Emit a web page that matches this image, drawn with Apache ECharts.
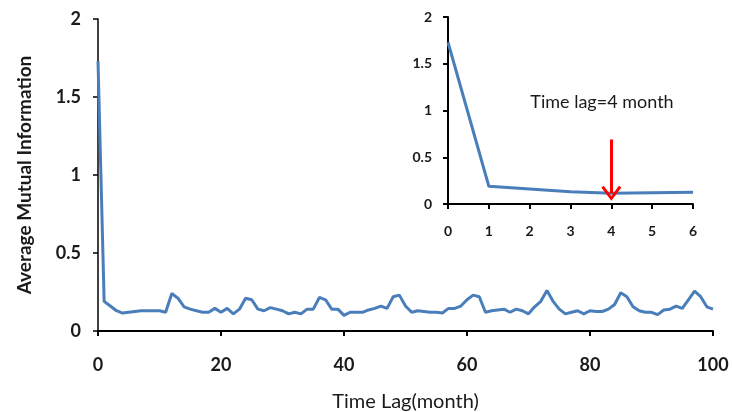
<!DOCTYPE html>
<html>
<head>
<meta charset="utf-8">
<script src="https://cdn.jsdelivr.net/npm/echarts@6/dist/echarts.min.js"></script>
<style>
  html, body { margin: 0; padding: 0; background: #fff; }
  #chart { width: 732px; height: 412px; }
</style>
</head>
<body>
<div id="chart"></div>
<script>
// Average mutual information for time lags 0..100 months
const lags = Array.from({ length: 101 }, (_, i) => i);
const ami = [
  1.73, 0.19, 0.16, 0.13, 0.115, 0.12, 0.125, 0.13, 0.13, 0.13,
  0.13, 0.12, 0.24, 0.21, 0.155, 0.14, 0.13, 0.12, 0.12, 0.145,
  0.12, 0.145, 0.11, 0.14, 0.21, 0.2, 0.14, 0.13, 0.15, 0.14,
  0.13, 0.11, 0.12, 0.11, 0.14, 0.14, 0.215, 0.2, 0.14, 0.14,
  0.10, 0.12, 0.12, 0.12, 0.135, 0.145, 0.16, 0.145, 0.22, 0.23,
  0.16, 0.12, 0.13, 0.125, 0.12, 0.12, 0.115, 0.145, 0.145, 0.16,
  0.2, 0.23, 0.22, 0.12, 0.13, 0.135, 0.14, 0.12, 0.14, 0.13,
  0.11, 0.155, 0.19, 0.26, 0.19, 0.14, 0.11, 0.12, 0.13, 0.11,
  0.13, 0.125, 0.125, 0.14, 0.17, 0.245, 0.22, 0.155, 0.13, 0.12,
  0.12, 0.105, 0.135, 0.14, 0.16, 0.145, 0.2, 0.255, 0.22, 0.155,
  0.14
];
// Zoomed view covers the first lags only
const insetMaxLag = 6;
const chosenLag = 4;
const annotation = 'Time lag=4 month';
const yTicks = ['0', '0.5', '1', '1.5', '2'];

const mainPoints = lags.map((l, i) => [l, ami[i]]);
const insetPoints = mainPoints.slice(0, insetMaxLag + 1);

const FONT = 'Lato, "Open Sans", sans-serif';
const LINE_COLOR = '#4A7EBB';
const TEXT = '#1a1a1a';

const chart = echarts.init(document.getElementById('chart'), null, { renderer: 'canvas' });

const baseAxisLine = w => ({ show: true, onZero: false, lineStyle: { color: '#000', width: w } });

chart.setOption({
  backgroundColor: '#fff',
  animation: false,
  title: {
    text: annotation,
    left: 597, top: 88,
    textAlign: 'center',
    textStyle: { fontFamily: FONT, fontSize: 18, fontWeight: 'normal', color: TEXT }
  },
  grid: [
    { left: 98, right: 19, top: 19, bottom: 81, containLabel: false, outerBoundsMode: 'none' },
    { left: 448, right: 39, top: 17, bottom: 208, containLabel: false, outerBoundsMode: 'none' }
  ],
  xAxis: [
    {
      gridIndex: 0, type: 'value', min: 0, max: 100, interval: 20,
      name: 'Time Lag(month)', nameLocation: 'middle', nameGap: 61,
      nameTextStyle: { fontFamily: FONT, fontSize: 20, color: TEXT },
      axisLine: baseAxisLine(2),
      axisTick: { show: true, length: 5, lineStyle: { color: '#000', width: 2 } },
      axisLabel: { margin: 25, fontFamily: FONT, fontSize: 18, fontWeight: 'bold', color: TEXT },
      splitLine: { show: false }
    },
    {
      gridIndex: 1, type: 'value', min: 0, max: insetMaxLag, interval: 1,
      axisLine: baseAxisLine(2),
      axisTick: { show: true, length: 5, lineStyle: { color: '#000', width: 2 } },
      axisLabel: { margin: 20, fontFamily: FONT, fontSize: 14, fontWeight: 'bold', color: TEXT },
      splitLine: { show: false }
    }
  ],
  yAxis: [
    {
      gridIndex: 0, type: 'value', min: 0, max: 2, interval: 0.5,
      name: 'Average Mutual Information', nameLocation: 'middle', nameGap: 64, nameRotate: 90,
      nameTextStyle: { fontFamily: FONT, fontSize: 19, fontWeight: 'bold', color: TEXT },
      axisLine: baseAxisLine(1.5),
      axisTick: { show: true, length: 5, lineStyle: { color: '#000', width: 1.5 } },
      axisLabel: {
        margin: 17, fontFamily: FONT, fontSize: 18, fontWeight: 'bold', color: TEXT,
        formatter: (v) => yTicks[Math.round(v / 0.5)]
      },
      splitLine: { show: false }
    },
    {
      gridIndex: 1, type: 'value', min: 0, max: 2, interval: 0.5,
      axisLine: baseAxisLine(2),
      axisTick: { show: true, length: 5, lineStyle: { color: '#000', width: 2 } },
      axisLabel: {
        margin: 16, fontFamily: FONT, fontSize: 14, fontWeight: 'bold', color: TEXT,
        formatter: (v) => yTicks[Math.round(v / 0.5)]
      },
      splitLine: { show: false }
    }
  ],
  series: [
    {
      type: 'line', xAxisIndex: 0, yAxisIndex: 0,
      data: mainPoints, showSymbol: false, smooth: false,
      lineStyle: { color: LINE_COLOR, width: 3 }
    },
    {
      type: 'line', xAxisIndex: 1, yAxisIndex: 1,
      data: insetPoints, showSymbol: false, smooth: false,
      lineStyle: { color: LINE_COLOR, width: 3 },
      markLine: {
        silent: true,
        symbol: ['none', 'path://M10,0 L20,13 L17.6,14.6 L10,4.4 L2.4,14.6 L0,13 Z'],
        symbolSize: [20, 15],
        label: { show: false },
        lineStyle: { color: '#FF0000', width: 3, type: 'solid' },
        data: [[
          { coord: [chosenLag, 0.69] },
          { coord: [chosenLag, ami[chosenLag]] }
        ]]
      }
    }
  ]
});
</script>
</body>
</html>
